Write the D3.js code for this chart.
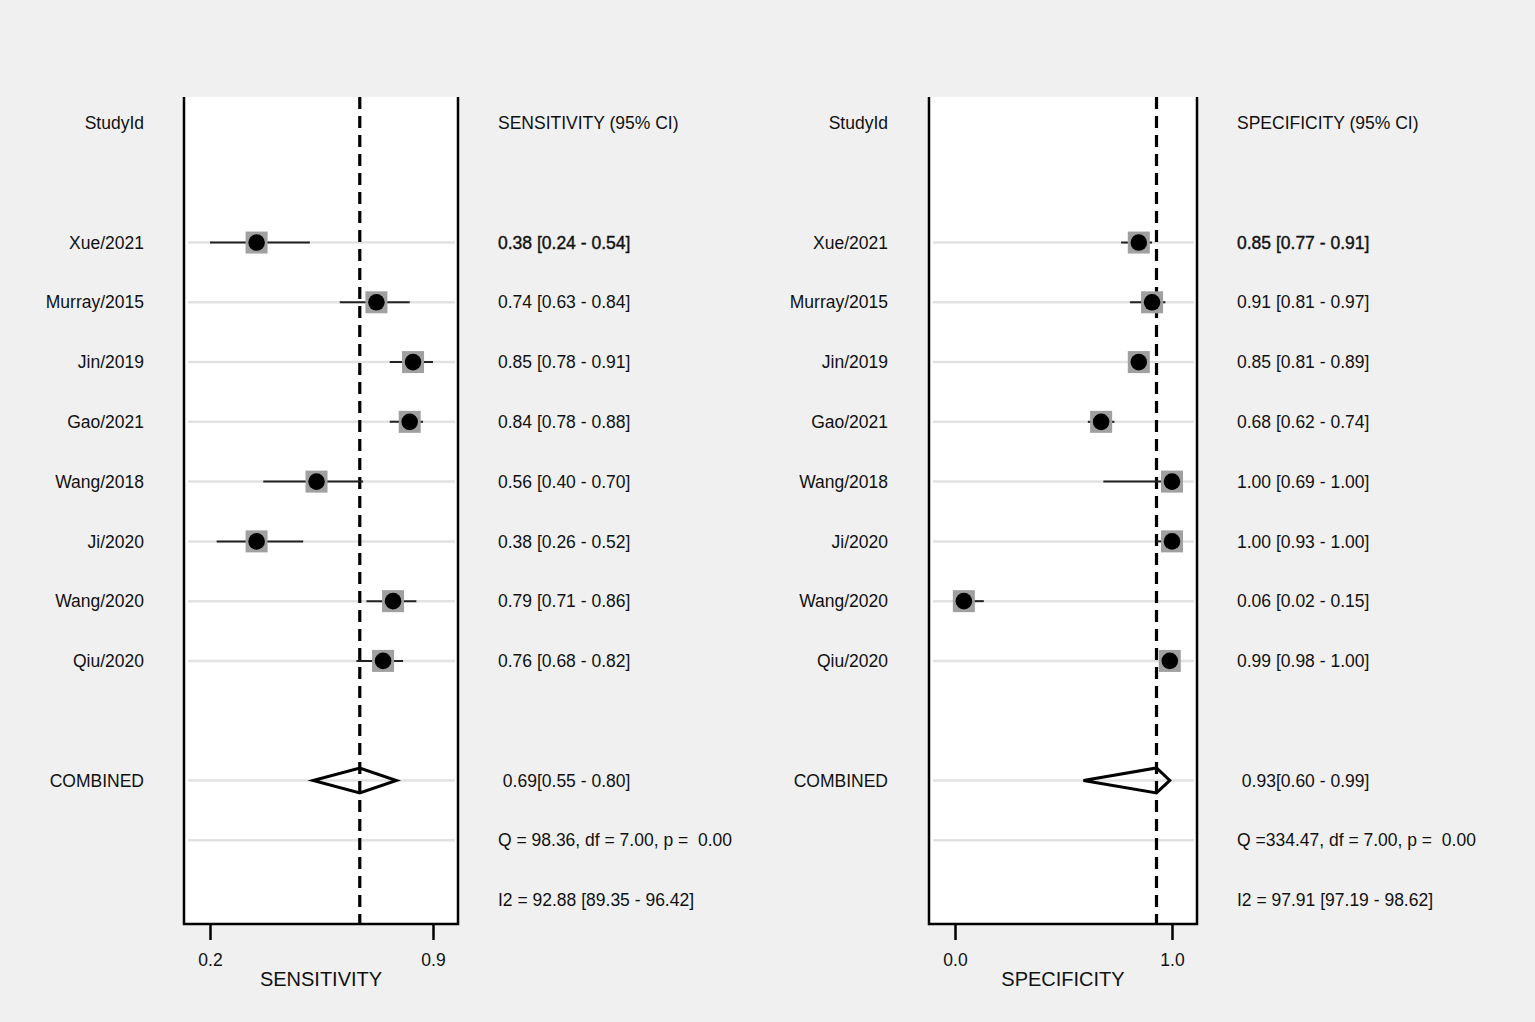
<!DOCTYPE html>
<html>
<head>
<meta charset="utf-8">
<script src="https://cdn.jsdelivr.net/npm/d3@7"></script>
<style>
  html, body { margin: 0; padding: 0; background: #f0f0f0; }
  svg text { font-family: "Liberation Sans", Arial, sans-serif; fill: #111; white-space: pre; }
</style>
</head>
<body>
<svg id="chart" width="1535" height="1022"></svg>
<script>
// study data
var studies = ["Xue/2021", "Murray/2015", "Jin/2019", "Gao/2021", "Wang/2018", "Ji/2020", "Wang/2020", "Qiu/2020"]

var sens   = [0.38, 0.74, 0.85, 0.84, 0.56, 0.38, 0.79, 0.76]
var sensLo = [0.24, 0.63, 0.78, 0.78, 0.40, 0.26, 0.71, 0.68]
var sensHi = [0.54, 0.84, 0.91, 0.88, 0.70, 0.52, 0.86, 0.82]

var spec   = [0.85, 0.91, 0.85, 0.68, 1.00, 1.00, 0.06, 0.99]
var specLo = [0.77, 0.81, 0.81, 0.62, 0.69, 0.93, 0.02, 0.98]
var specHi = [0.91, 0.97, 0.89, 0.74, 1.00, 1.00, 0.15, 1.00]

// pooled estimate [est, lo, hi]
var sensPooled = [0.69, 0.55, 0.80]
var specPooled = [0.93, 0.60, 0.99]

// heterogeneity [Q, df, p] and I2 [est, lo, hi]
var sensQ  = [98.36, 7.00, 0.00]
var specQ  = [334.47, 7.00, 0.00]
var sensI2 = [92.88, 89.35, 96.42]
var specI2 = [97.91, 97.19, 98.62]

var svg = d3.select('#chart')

var f2 = d3.format('.2f')
var f6 = d3.format('6.2f')
var f5 = d3.format('5.2f')

// rows: 0 header, 2..9 studies, 11 combined, 12 Q, 13 I2
var y = d3.scaleLinear().domain([0, 13]).range([123, 900])
var panelTop = 97, panelBottom = 924

drawPanel = function(opt){
    var g = svg.append('g')
    var x = d3.scaleLinear()
        .domain([d3.min(opt.lo), d3.max(opt.hi)])
        .range([opt.left + 26, opt.right - 25])

    // white plot area
    g.append('rect')
        .attr('x', opt.left).attr('y', panelTop)
        .attr('width', opt.right - opt.left).attr('height', panelBottom - panelTop)
        .attr('fill', '#fff')

    // light row lines
    var gridRows = d3.range(2, 10).concat([11, 12])
    g.selectAll('.grid').data(gridRows).enter().append('line')
        .attr('x1', opt.left + 4).attr('x2', opt.right - 3)
        .attr('y1', function(d){ return y(d) }).attr('y2', function(d){ return y(d) })
        .attr('stroke', '#e2e2e2').attr('stroke-width', 2.5)

    // pooled dashed line
    g.append('line')
        .attr('x1', x(opt.pooled[0])).attr('x2', x(opt.pooled[0]))
        .attr('y1', panelTop).attr('y2', panelBottom)
        .attr('stroke', '#000').attr('stroke-width', 3.2)
        .attr('stroke-dasharray', '12,7')

    var rows = opt.est.map(function(d, i){
        return {name: studies[i], est: d, lo: opt.lo[i], hi: opt.hi[i], row: i + 2}
    })

    // CI lines
    g.selectAll('.ci').data(rows).enter().append('line')
        .attr('x1', function(d){ return x(d.lo) }).attr('x2', function(d){ return x(d.hi) })
        .attr('y1', function(d){ return y(d.row) }).attr('y2', function(d){ return y(d.row) })
        .attr('stroke', '#222').attr('stroke-width', 2)

    // weight squares
    g.selectAll('.sq').data(rows).enter().append('rect')
        .attr('x', function(d){ return x(d.est) - 11 })
        .attr('y', function(d){ return y(d.row) - 11 })
        .attr('width', 22).attr('height', 22)
        .attr('fill', '#a0a0a0')

    // point estimates
    g.selectAll('.pt').data(rows).enter().append('circle')
        .attr('cx', function(d){ return x(d.est) })
        .attr('cy', function(d){ return y(d.row) })
        .attr('r', 8.3)
        .attr('fill', '#000')

    // combined diamond
    var yc = y(11)
    var p = opt.pooled
    g.append('path')
        .attr('d', 'M' + x(p[1]) + ',' + yc + 'L' + x(p[0]) + ',' + (yc - 12.5) +
                   'L' + x(p[2]) + ',' + yc + 'L' + x(p[0]) + ',' + (yc + 12.5) + 'Z')
        .attr('fill', 'none').attr('stroke', '#000').attr('stroke-width', 3)
        .attr('stroke-linejoin', 'miter')

    // box
    g.append('path')
        .attr('d', 'M' + opt.left + ',' + panelTop + 'V' + panelBottom + 'H' + opt.right + 'V' + panelTop)
        .attr('fill', 'none').attr('stroke', '#000').attr('stroke-width', 2.5)

    // axis
    var axis = d3.axisBottom(x)
        .tickValues(x.domain())
        .tickFormat(d3.format('.1f'))
        .tickSize(16)
        .tickPadding(14)
    var ag = g.append('g')
        .attr('transform', 'translate(0,' + panelBottom + ')')
        .call(axis)
    ag.select('.domain').remove()
    ag.selectAll('.tick line').attr('stroke', '#000').attr('stroke-width', 2.5)
    ag.selectAll('.tick text')
        .style('font-family', '"Liberation Sans", Arial, sans-serif')
        .style('font-size', '17.5px').attr('fill', '#111')

    g.append('text')
        .attr('x', (opt.left + opt.right) / 2).attr('y', 986)
        .attr('text-anchor', 'middle')
        .style('font-size', '20px')
        .text(opt.title)

    // left column labels
    g.append('text')
        .attr('x', opt.labelX).attr('y', y(0)).attr('dy', '0.35em')
        .attr('text-anchor', 'end').style('font-size', '17.5px')
        .text('StudyId')
    g.selectAll('.lab').data(rows).enter().append('text')
        .attr('x', opt.labelX).attr('y', function(d){ return y(d.row) }).attr('dy', '0.35em')
        .attr('text-anchor', 'end').style('font-size', '17.5px')
        .text(function(d){ return d.name })
    g.append('text')
        .attr('x', opt.labelX).attr('y', y(11)).attr('dy', '0.35em')
        .attr('text-anchor', 'end').style('font-size', '17.5px')
        .text('COMBINED')

    // right column values
    g.append('text')
        .attr('x', opt.textX).attr('y', y(0)).attr('dy', '0.35em')
        .style('font-size', '17.5px')
        .text(opt.title + ' (95% CI)')
    g.selectAll('.val').data(rows).enter().append('text')
        .attr('x', opt.textX).attr('y', function(d){ return y(d.row) }).attr('dy', '0.35em')
        .style('font-size', '17.5px')
        .attr('stroke', function(d, i){ return i == 0 ? '#111' : 'none' })
        .attr('stroke-width', 0.4)
        .text(function(d){ return f2(d.est) + ' [' + f2(d.lo) + ' - ' + f2(d.hi) + ']' })
    g.append('text')
        .attr('x', opt.textX).attr('y', y(11)).attr('dy', '0.35em')
        .style('font-size', '17.5px')
        .text(' ' + f2(p[0]) + '[' + f2(p[1]) + ' - ' + f2(p[2]) + ']')
    g.append('text')
        .attr('x', opt.textX).attr('y', y(12)).attr('dy', '0.35em')
        .style('font-size', '17.5px')
        .text('Q =' + f6(opt.q[0]) + ', df =' + f5(opt.q[1]) + ', p = ' + f5(opt.q[2]))
    g.append('text')
        .attr('x', opt.textX).attr('y', y(13)).attr('dy', '0.35em')
        .style('font-size', '17.5px')
        .text('I2 = ' + f2(opt.i2[0]) + ' [' + f2(opt.i2[1]) + ' - ' + f2(opt.i2[2]) + ']')
}

drawPanel({title: 'SENSITIVITY', est: sens, lo: sensLo, hi: sensHi, pooled: sensPooled,
           q: sensQ, i2: sensI2, left: 184, right: 458, labelX: 144, textX: 498})
drawPanel({title: 'SPECIFICITY', est: spec, lo: specLo, hi: specHi, pooled: specPooled,
           q: specQ, i2: specI2, left: 929, right: 1197, labelX: 888, textX: 1237})
</script>
</body>
</html>
